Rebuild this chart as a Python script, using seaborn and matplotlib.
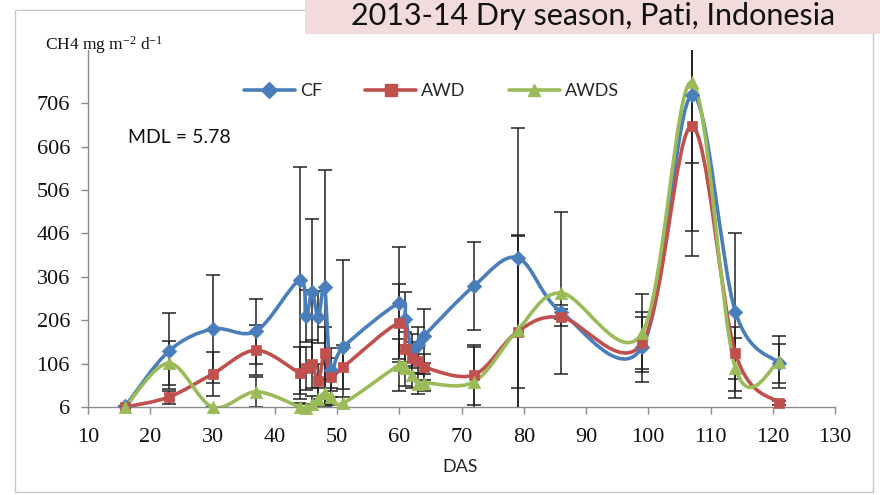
import numpy as np
import pandas as pd
import matplotlib
matplotlib.use("Agg")
import matplotlib.pyplot as plt
import seaborn as sns
from matplotlib.path import Path
from matplotlib.patches import PathPatch, Rectangle
from matplotlib.lines import Line2D

# ---------------- data ----------------
days = [16, 23, 30, 37, 44, 45, 46, 47, 48, 49, 51, 60, 61, 62, 63, 64, 72, 79, 86, 99, 107, 114, 121]
cf   = [8, 135, 186, 181, 298, 215, 270, 213, 283, 92, 144, 246, 210, 135, 150, 170, 285, 350, 225, 144, 725, 225, 107]
awd  = [6, 29, 82, 137, 85, 95, 105, 65, 130, 75, 98, 200, 140, 120, 112, 98, 80, 180, 213, 153, 653, 130, 15]
awds = [6, 107, 6, 41, 6, 4, 12, 25, 38, 30, 15, 103, 95, 80, 60, 62, 64, 183, 269, 176, 755, 96, 110]
cf_err   = [0, 87, 124, 75, 261, 60, 170, 60, 270, 50, 200, 130, 60, 40, 40, 62, 102, 300, 15, 80, 157, 182, 45]
awd_err  = [0, 15, 51, 57, 60, 50, 55, 40, 60, 45, 50, 90, 40, 35, 30, 30, 70, 220, 20, 60, 242, 60, 5]
awds_err = [0, 50, 0, 35, 10, 8, 20, 25, 30, 20, 15, 60, 40, 30, 25, 20, 80, 220, 186, 90, 400, 70, 60]
series_names = ["CF", "AWD", "AWDS"]
yticks = [6, 106, 206, 306, 406, 506, 606, 706]
xticks = list(range(10, 131, 10))

colors = {"CF": "#4A7EBB", "AWD": "#C0504D", "AWDS": "#9BBB59"}
markers = {"CF": "D", "AWD": "s", "AWDS": "^"}
msize = {"CF": 55, "AWD": 60, "AWDS": 80}

rows = []
for name, vals, errs in zip(series_names, [cf, awd, awds], [cf_err, awd_err, awds_err]):
    for d, v, e in zip(days, vals, errs):
        rows.append({"DAS": d, "CH4": v, "err": e, "series": name})
df = pd.DataFrame(rows)

# ---------------- figure ----------------
sns.set_theme(style="white")
plt.rcParams["font.family"] = ["Lato", "DejaVu Sans"]
plt.rcParams["mathtext.fontset"] = "custom"
plt.rcParams["mathtext.rm"] = "Liberation Serif"
plt.rcParams["mathtext.it"] = "Liberation Serif"
plt.rcParams["axes.unicode_minus"] = False

fig = plt.figure(figsize=(8.8, 4.95), dpi=100)
fig.patch.set_facecolor("white")
ax = fig.add_axes([88 / 880, 1 - 407 / 495, (835 - 88) / 880, (407 - 50) / 495])

# outer border
fig.patches.append(Rectangle((15 / 880, 3 / 495), 858 / 880, 482 / 495, transform=fig.transFigure,
                             fill=False, edgecolor="#c8c8c8", lw=1.0, zorder=0))

# error bars
for name in series_names:
    sub = df[df.series == name]
    ax.errorbar(sub.DAS, sub.CH4, yerr=sub.err, fmt="none", ecolor="#222222",
                elinewidth=1.1, capsize=5, capthick=1.1, zorder=2)


def smooth_path(xs, ys):
    xs = np.asarray(xs, float)
    ys = np.asarray(ys, float)
    pts = np.column_stack([xs, ys])
    n = len(pts)
    verts = [pts[0]]
    codes = [Path.MOVETO]
    for i in range(n - 1):
        p0 = pts[i - 1] if i > 0 else pts[i]
        p1 = pts[i]
        p2 = pts[i + 1]
        p3 = pts[i + 2] if i + 2 < n else pts[i + 1]
        c1 = p1 + (p2 - p0) / 6.0
        c2 = p2 - (p3 - p1) / 6.0
        verts += [c1, c2, p2]
        codes += [Path.CURVE4] * 3
    return Path(verts, codes)


for name in series_names:
    sub = df[df.series == name]
    patch = PathPatch(smooth_path(sub.DAS, sub.CH4), fill=False, edgecolor=colors[name],
                      lw=2.6, zorder=3, capstyle="round", joinstyle="round")
    ax.add_patch(patch)

for name in series_names:
    sub = df[df.series == name]
    sns.scatterplot(data=sub, x="DAS", y="CH4", marker=markers[name], color=colors[name],
                    s=msize[name], edgecolor=colors[name], linewidth=0.5, ax=ax, zorder=4,
                    legend=False, clip_on=False)

ax.set_xlim(10, 130)
ax.set_ylim(6, 829)
ax.set_xticks(xticks)
ax.set_yticks(yticks)
ax.set_xlabel("")
ax.set_ylabel("")
for s in ["top", "right"]:
    ax.spines[s].set_visible(False)
for s in ["left", "bottom"]:
    ax.spines[s].set_color("#8c8c8c")
    ax.spines[s].set_linewidth(1.0)
ax.tick_params(axis="both", direction="out", length=5, width=1, color="#8c8c8c",
               labelsize=16, left=True, bottom=True)
ax.tick_params(axis="x", pad=10)
ax.tick_params(axis="y", pad=8)
for lab in ax.get_xticklabels() + ax.get_yticklabels():
    lab.set_family(["Liberation Serif", "DejaVu Serif"])
    lab.set_color("#111111")

# legend
handles = [Line2D([0], [0], color=colors[n], lw=2.6, marker=markers[n], markersize=8,
                  markerfacecolor=colors[n], markeredgecolor=colors[n]) for n in series_names]
ax.legend(handles, series_names, loc="center", bbox_to_anchor=(0.46, 0.885), ncol=3,
          frameon=False, fontsize=13, handlelength=2.8, columnspacing=2.4, handletextpad=0.3)

# texts
ax.text(0.054, 0.755, "MDL = 5.78", transform=ax.transAxes, fontsize=14, va="center",
        ha="left", color="#111111")
fig.text(45 / 880, 1 - 45 / 495, "CH4 mg m$^{-2}$ d$^{-1}$", fontsize=12.5, va="center", ha="left",
         family=["Liberation Serif", "DejaVu Serif"], color="#111111")
fig.text(460 / 880, 1 - 467 / 495, "DAS", fontsize=13, va="center", ha="center", color="#222222")

# title box
fig.patches.append(Rectangle((305 / 880, 1 - 34 / 495), 575 / 880, 34 / 495, transform=fig.transFigure,
                             facecolor="#F2DCDB", edgecolor="none", zorder=5))
fig.text(593 / 880, 1 - 25 / 495, "2013-14 Dry season, Pati, Indonesia", fontsize=22,
         ha="center", va="baseline", color="#111111", zorder=6)

fig.savefig("out.png", dpi=100, facecolor="white")
